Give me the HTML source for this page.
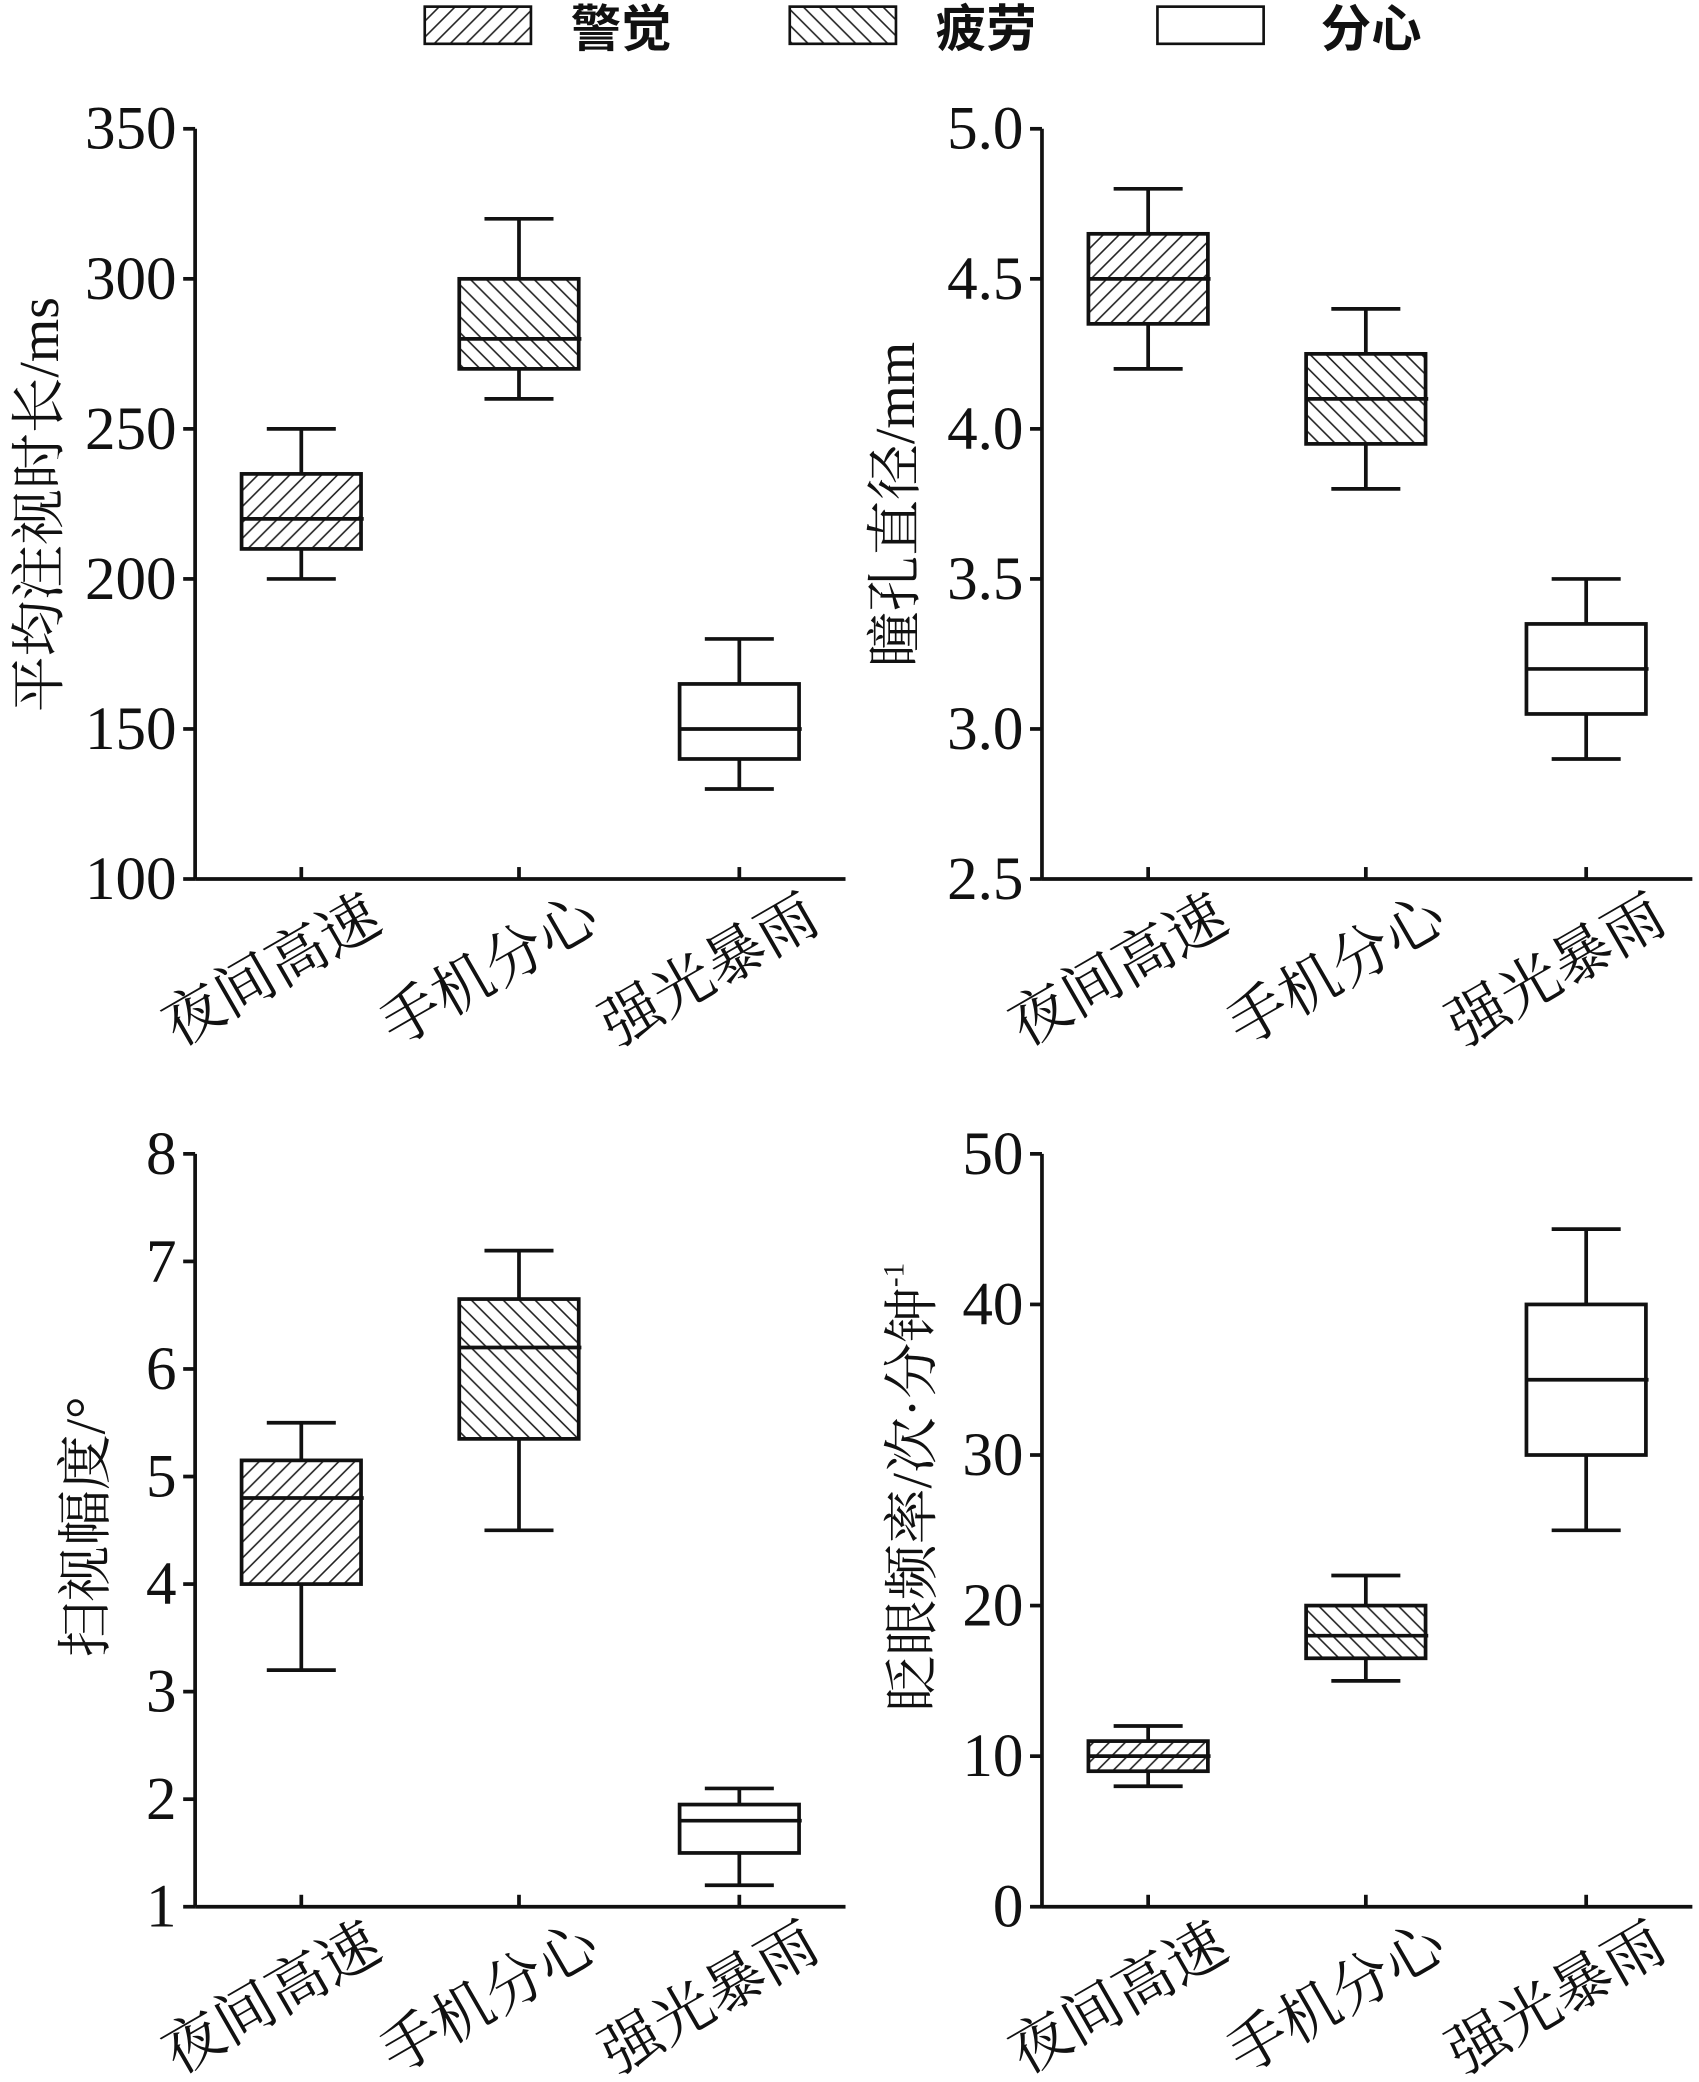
<!DOCTYPE html>
<html><head><meta charset="utf-8"><style>
html,body{margin:0;padding:0;background:#fff}
svg{display:block}
text{font-family:"Liberation Serif","Noto Serif CJK SC",serif;fill:#111}
.cj{font-family:"Liberation Serif","Noto Serif CJK SC",serif}
.lg{font-family:"Liberation Sans","Noto Sans CJK SC",sans-serif}
</style></head><body>
<svg id="s" width="1699" height="2082" viewBox="0 0 1280 1568" preserveAspectRatio="none" xmlns="http://www.w3.org/2000/svg">
<defs>
<pattern id="pa" patternUnits="userSpaceOnUse" width="12" height="12">
<rect width="12" height="12" fill="#fff"/><path d="M-3,3 l6,-6 M0,12 l12,-12 M9,15 l6,-6" stroke="#222" stroke-width="1.2"/></pattern>
<pattern id="pb" patternUnits="userSpaceOnUse" width="12" height="12">
<rect width="12" height="12" fill="#fff"/><path d="M-3,9 l6,6 M0,0 l12,12 M9,-3 l6,6" stroke="#222" stroke-width="1.2"/></pattern>
</defs>
<g id="g"></g>
</svg>
<script>
var g=document.getElementById('g'),h='';
function L(x1,y1,x2,y2,w){h+='<line x1="'+x1+'" y1="'+y1+'" x2="'+x2+'" y2="'+y2+'" stroke="#111" stroke-width="'+(w||2.8)+'"/>';}
[[320,'pa','警觉',430],[595,'pb','疲劳',705],[872,'#fff','分心',995]].forEach(function(l){
h+='<rect x="'+l[0]+'" y="5" width="80" height="28" fill="'+(l[1][0]=='#'?l[1]:'url(#'+l[1]+')')+'" stroke="#111" stroke-width="2"/>';
h+='<text class="lg" x="'+l[3]+'" y="35" font-size="38" font-weight="bold">'+l[2]+'</text>';});
var charts=[
{ax:147,top:97,bot:662,min:100,max:350,ticks:[100,150,200,250,300,350],fmt:0,lab:'平均注视时长/ms',lx:30,ly:380,
 d:[[200,210,220,235,250],[260,270,280,300,320],[130,140,150,165,180]]},
{ax:785,top:97,bot:662,min:2.5,max:5,ticks:[2.5,3,3.5,4,4.5,5],fmt:1,lab:'瞳孔直径/mm',lx:675,ly:380,
 d:[[4.2,4.35,4.5,4.65,4.8],[3.8,3.95,4.1,4.25,4.4],[2.9,3.05,3.2,3.35,3.5]]},
{ax:147,top:869,bot:1436,min:1,max:8,ticks:[1,2,3,4,5,6,7,8],fmt:0,lab:'扫视幅度/°',lx:65,ly:1150,
 d:[[3.2,4.0,4.8,5.15,5.5],[4.5,5.35,6.2,6.65,7.1],[1.2,1.5,1.8,1.95,2.1]]},
{ax:785,top:869,bot:1436,min:0,max:50,ticks:[0,10,20,30,40,50],fmt:0,lab:'眨眼频率/次·分钟<tspan font-size="22" dy="-14">-1</tspan>',lx:688,ly:1120,
 d:[[8,9,10,11,12],[15,16.5,18,20,22],[25,30,35,40,45]]}];
var fills=['url(#pa)','url(#pb)','#fff'],cats=['夜间高速','手机分心','强光暴雨'];
charts.forEach(function(c){
 var Y=function(v){return c.bot-(v-c.min)/(c.max-c.min)*(c.bot-c.top);};
 L(c.ax,c.top,c.ax,c.bot);L(c.ax,c.bot,c.ax+490,c.bot);
 c.ticks.forEach(function(t){var y=Y(t);L(c.ax-9,y,c.ax,y);
  h+='<text x="'+(c.ax-14)+'" y="'+(y+15)+'" font-size="46" text-anchor="end">'+(c.fmt?t.toFixed(1):t)+'</text>';});
 [80,244,410].forEach(function(o,i){var x=c.ax+o,d=c.d[i];
  L(x,c.bot,x,c.bot-9);
  L(x,Y(d[0]),x,Y(d[4]));L(x-26,Y(d[0]),x+26,Y(d[0]));L(x-26,Y(d[4]),x+26,Y(d[4]));
  h+='<rect x="'+(x-45)+'" y="'+Y(d[3])+'" width="90" height="'+(Y(d[1])-Y(d[3]))+'" fill="'+fills[i]+'" stroke="#111" stroke-width="2.8"/>';
  L(x-45,Y(d[2]),x+47,Y(d[2]));
  var cx=x-15,cy=c.bot+82;
  h+='<text class="cj" x="'+cx+'" y="'+cy+'" font-size="45" text-anchor="middle" transform="rotate(-30 '+cx+' '+cy+')">'+cats[i]+'</text>';});
 h+='<text class="cj" x="'+c.lx+'" y="'+c.ly+'" font-size="42" text-anchor="middle" dominant-baseline="central" transform="rotate(-90 '+c.lx+' '+c.ly+')">'+c.lab+'</text>';
});
g.innerHTML=h;
</script>
</body></html>
